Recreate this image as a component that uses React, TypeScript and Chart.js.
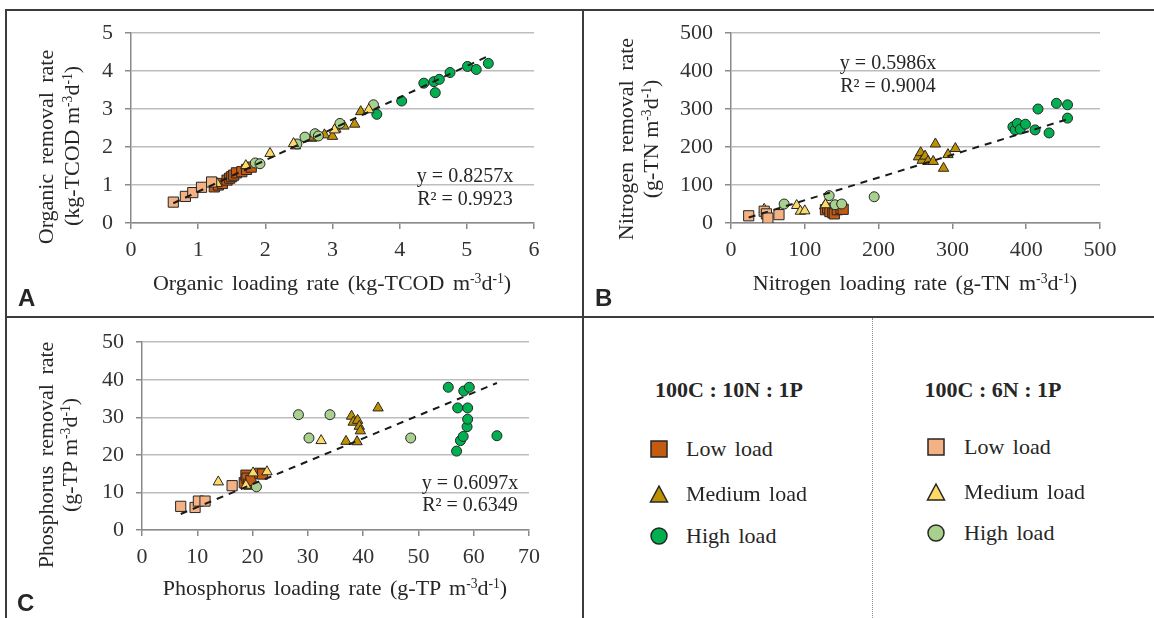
import React, { useEffect, useRef } from "react";
import { Chart, registerables } from "chart.js";

Chart.register(...registerables);

type Pt = [number, number];

// ---------- Panel A: organic (kg-TCOD m-3 d-1) ----------
const organicLow10N: Pt[] = [[1.24, 0.95], [1.30, 1.00], [1.36, 1.04], [1.43, 1.13], [1.47, 1.18], [1.50, 1.22], [1.53, 1.26], [1.57, 1.32], [1.65, 1.35], [1.72, 1.41], [1.79, 1.47]];
const organicMed10N: Pt[] = [[2.45, 2.03], [2.69, 2.23], [2.72, 2.26], [2.88, 2.32], [3.00, 2.28], [3.05, 2.47], [3.17, 2.55], [3.33, 2.60], [3.42, 2.93]];
const organicHigh10N: Pt[] = [[3.66, 2.86], [4.03, 3.21], [4.36, 3.68], [4.51, 3.72], [4.53, 3.43], [4.59, 3.78], [4.75, 3.96], [5.01, 4.12], [5.14, 4.04], [5.32, 4.20]];
const organicLow6N: Pt[] = [[0.63, 0.55], [0.81, 0.70], [0.92, 0.80], [1.05, 0.94], [1.20, 1.08]];
const organicMed6N: Pt[] = [[1.28, 1.04], [1.71, 1.51], [2.07, 1.83], [2.42, 2.09], [3.03, 2.45], [3.54, 2.98]];
const organicHigh6N: Pt[] = [[1.85, 1.58], [1.92, 1.56], [2.47, 2.08], [2.59, 2.26], [2.74, 2.35], [2.79, 2.29], [3.11, 2.62], [3.61, 3.11]];
const organicSlope = 0.8257;
const organicEq = ["y = 0.8257x", "R² = 0.9923"];

// ---------- Panel B: nitrogen (g-TN m-3 d-1) ----------
const nitrogenLow10N: Pt[] = [[128, 35], [131, 39], [134, 30], [138, 27], [140, 24], [144, 35], [149, 38], [152, 36]];
const nitrogenMed10N: Pt[] = [[127, 45], [254, 174], [257, 185], [259, 165], [263, 176], [267, 162], [274, 162], [277, 208], [288, 144], [294, 180], [304, 196]];
const nitrogenHigh10N: Pt[] = [[382, 253], [385, 245], [388, 262], [392, 247], [399, 260], [412, 245], [416, 300], [431, 237], [441, 315], [456, 311], [456, 276]];
const nitrogenLow6N: Pt[] = [[24, 19], [45, 31], [48, 24], [50, 13], [65, 22]];
const nitrogenMed6N: Pt[] = [[45, 36], [89, 46], [94, 31], [100, 32], [128, 48]];
const nitrogenHigh6N: Pt[] = [[72, 50], [133, 72], [141, 48], [150, 50], [194, 69]];
const nitrogenSlope = 0.5986;
const nitrogenEq = ["y = 0.5986x", "R² = 0.9004"];

// ---------- Panel C: phosphorus (g-TP m-3 d-1) ----------
const phosphorusLow10N: Pt[] = [[18.5, 12.6], [18.8, 14.6], [19.0, 13.8], [19.3, 12.2], [19.7, 13.2], [21.3, 15.1], [21.8, 14.9]];
const phosphorusMed10N: Pt[] = [[36.9, 23.6], [37.9, 30.3], [38.2, 28.7], [38.9, 23.5], [39.0, 29.2], [39.3, 27.6], [39.5, 26.4], [42.7, 32.5]];
const phosphorusHigh10N: Pt[] = [[55.4, 38.0], [56.9, 21.0], [57.1, 32.5], [57.6, 23.8], [58.1, 24.9], [58.2, 37.0], [58.8, 27.5], [58.9, 29.5], [58.9, 32.5], [59.2, 38.0], [64.2, 25.1]];
const phosphorusLow6N: Pt[] = [[7.0, 6.3], [9.6, 6.0], [10.2, 7.7], [11.4, 7.7], [16.3, 11.8]];
const phosphorusMed6N: Pt[] = [[13.8, 12.8], [18.8, 11.9], [20.1, 15.2], [22.6, 15.5], [32.4, 23.8]];
const phosphorusHigh6N: Pt[] = [[20.7, 11.5], [28.3, 30.7], [30.2, 24.5], [34.0, 30.7], [48.6, 24.5]];
const phosphorusSlope = 0.6097;
const phosphorusEq = ["y = 0.6097x", "R² = 0.6349"];

// ---------- legend / series ----------
const groupNames = ["100C : 10N : 1P", "100C : 6N : 1P"];
const loadNames = ["Low load", "Medium load", "High load"];
const seriesColors = ["#C55A11", "#BF9000", "#00B050", "#F4B183", "#FFD966", "#A9D18E"];
const seriesShapes = ["rect", "triangle", "circle", "rect", "triangle", "circle"];

const SERIF = '"Liberation Serif", "Times New Roman", serif';
const SANS = '"Liberation Sans", Arial, sans-serif';
const TEXT = "#262626";

interface PanelSpec {
  series: Pt[][];
  slope: number;
  xMax: number;
  xStep: number;
  yMax: number;
  yStep: number;
  yWidth: number;
  xHeight: number;
  pad: { left: number; top: number; right: number; bottom: number };
}

const radiusFor = (shape: string) => (shape === "rect" ? 7.2 : shape === "triangle" ? 6 : 5);

function ScatterPanel(props: { spec: PanelSpec; left: number; top: number; width: number; height: number }) {
  const { spec, left, top, width, height } = props;
  const ref = useRef<HTMLCanvasElement | null>(null);
  useEffect(() => {
    if (!ref.current) return;
    const all = spec.series.flat();
    const xs = all.map((p) => p[0]);
    const x0 = Math.min(...xs);
    const x1 = Math.max(...xs);
    const datasets: any[] = [
      {
        type: "line",
        data: [
          { x: x0, y: spec.slope * x0 },
          { x: x1, y: spec.slope * x1 },
        ],
        borderColor: "#1a1a1a",
        borderWidth: 2,
        borderDash: [7, 6],
        pointRadius: 0,
        fill: false,
        order: -1,
      },
      ...spec.series.map((s, i) => ({
        type: "scatter",
        data: s.map(([x, y]) => ({ x, y })),
        pointStyle: seriesShapes[i],
        pointRadius: radiusFor(seriesShapes[i]),
        backgroundColor: seriesColors[i],
        borderColor: "#262626",
        borderWidth: 1,
        order: i < 3 ? 2 : 1,
      })),
    ];
    const tickFont = { family: SERIF, size: 22 };
    const chart = new Chart(ref.current, {
      type: "scatter",
      data: { datasets },
      options: {
        animation: false,
        responsive: false,
        maintainAspectRatio: false,
        devicePixelRatio: 1,
        layout: { padding: spec.pad },
        plugins: { legend: { display: false }, tooltip: { enabled: false } },
        scales: {
          x: {
            type: "linear",
            min: 0,
            max: spec.xMax,
            ticks: { stepSize: spec.xStep, font: tickFont, color: "#333", padding: 8, maxRotation: 0 },
            grid: { drawOnChartArea: false, drawTicks: true, tickLength: 6, tickColor: "#8a8a8a", lineWidth: 1.5 },
            border: { display: true, color: "#8a8a8a", width: 1.5 },
            afterFit: (s: any) => {
              s.height = spec.xHeight;
            },
          },
          y: {
            type: "linear",
            min: 0,
            max: spec.yMax,
            ticks: { stepSize: spec.yStep, font: tickFont, color: "#333", padding: 12 },
            grid: { color: "#bdbdbd", lineWidth: 1.5, drawTicks: true, tickLength: 6, tickColor: "#8a8a8a" },
            border: { display: true, color: "#8a8a8a", width: 1.5 },
            afterFit: (s: any) => {
              s.width = spec.yWidth;
            },
          },
        },
      } as any,
    });
    return () => chart.destroy();
  }, []);
  return (
    <canvas
      ref={ref}
      width={width}
      height={height}
      style={{ position: "absolute", left, top, width, height }}
    />
  );
}

const Sup = (p: { children: React.ReactNode }) => (
  <span style={{ fontSize: "0.62em", position: "relative", top: "-0.55em" }}>{p.children}</span>
);

function Txt(props: {
  x: number;
  y: number;
  children: React.ReactNode;
  size?: number;
  rotate?: boolean;
  align?: "center" | "left";
  bold?: boolean;
  family?: string;
  ws?: number;
}) {
  const { x, y, children, size = 22, rotate, align = "center", bold, family = SERIF, ws = 0 } = props;
  const tx = align === "center" ? "-50%" : "0";
  return (
    <div
      style={{
        position: "absolute",
        left: x,
        top: y,
        fontFamily: family,
        fontSize: size,
        lineHeight: 1,
        fontWeight: bold ? 700 : 400,
        color: TEXT,
        whiteSpace: "nowrap",
        wordSpacing: ws,
        transform: `translate(${tx}, -50%)${rotate ? " rotate(-90deg)" : ""}`,
        transformOrigin: align === "center" ? "center" : "left center",
      }}
    >
      {children}
    </div>
  );
}

const unit = (pre: string) => (
  <>
    ({pre} m<Sup>-3</Sup>d<Sup>-1</Sup>)
  </>
);

function Marker(props: { shape: string; color: string; cx: number; cy: number }) {
  const { shape, color, cx, cy } = props;
  const s = 20;
  return (
    <svg width={s} height={s} style={{ position: "absolute", left: cx - s / 2, top: cy - s / 2 }}>
      {shape === "rect" && <rect x={2} y={2} width={16} height={16} fill={color} stroke="#262626" strokeWidth={1.5} />}
      {shape === "triangle" && <polygon points="10,2 18.5,18 1.5,18" fill={color} stroke="#262626" strokeWidth={1.5} />}
      {shape === "circle" && <circle cx={10} cy={10} r={8} fill={color} stroke="#262626" strokeWidth={1.5} />}
    </svg>
  );
}

const Line = (p: { x: number; y: number; w: number; h: number }) => (
  <div style={{ position: "absolute", left: p.x, top: p.y, width: p.w, height: p.h, background: "#3c3c3c" }} />
);

export default function App() {
  const specA: PanelSpec = {
    series: [organicLow10N, organicMed10N, organicHigh10N, organicLow6N, organicMed6N, organicHigh6N],
    slope: organicSlope,
    xMax: 6,
    xStep: 1,
    yMax: 5,
    yStep: 1,
    yWidth: 131,
    xHeight: 40,
    pad: { left: 0, top: 33, right: 49, bottom: 53 },
  };
  const specB: PanelSpec = {
    series: [nitrogenLow10N, nitrogenMed10N, nitrogenHigh10N, nitrogenLow6N, nitrogenMed6N, nitrogenHigh6N],
    slope: nitrogenSlope,
    xMax: 500,
    xStep: 100,
    yMax: 500,
    yStep: 100,
    yWidth: 148,
    xHeight: 40,
    pad: { left: 0, top: 33, right: 54, bottom: 53 },
  };
  const specC: PanelSpec = {
    series: [phosphorusLow10N, phosphorusMed10N, phosphorusHigh10N, phosphorusLow6N, phosphorusMed6N, phosphorusHigh6N],
    slope: phosphorusSlope,
    xMax: 70,
    xStep: 10,
    yMax: 50,
    yStep: 10,
    yWidth: 142,
    xHeight: 40,
    pad: { left: 0, top: 22, right: 54, bottom: 48 },
  };

  return (
    <div style={{ position: "absolute", left: 0, top: 0, width: 1154, height: 618, overflow: "hidden", background: "#fff" }}>
      <ScatterPanel spec={specA} left={0} top={0} width={583} height={316} />
      <ScatterPanel spec={specB} left={583} top={0} width={571} height={316} />
      <ScatterPanel spec={specC} left={0} top={317} width={583} height={301} />

      {/* frame */}
      <Line x={5} y={9} w={1149} h={2} />
      <Line x={5} y={9} w={2} h={609} />
      <Line x={582} y={9} w={2} h={609} />
      <Line x={5} y={316} w={1149} h={2} />
      <div style={{ position: "absolute", left: 872, top: 318, width: 0, height: 300, borderLeft: "1px dotted #8c8c8c" }} />

      {/* Panel A texts */}
      <Txt x={332} y={283} ws={3}>Organic loading rate {unit("kg-TCOD")}</Txt>
      <Txt x={46} y={147} rotate ws={4}>Organic removal rate</Txt>
      <Txt x={72} y={146} rotate>{unit("kg-TCOD")}</Txt>
      <Txt x={18} y={298} align="left" bold family={SANS} size={24}>A</Txt>
      <Txt x={465} y={175} size={20}>{organicEq[0]}</Txt>
      <Txt x={465} y={198} size={20}>{organicEq[1]}</Txt>

      {/* Panel B texts */}
      <Txt x={915} y={283} ws={3}>Nitrogen loading rate {unit("g-TN")}</Txt>
      <Txt x={626} y={139} rotate ws={4}>Nitrogen removal rate</Txt>
      <Txt x={651} y={139} rotate>{unit("g-TN")}</Txt>
      <Txt x={595} y={298} align="left" bold family={SANS} size={24}>B</Txt>
      <Txt x={888} y={62} size={20}>{nitrogenEq[0]}</Txt>
      <Txt x={888} y={85} size={20}>{nitrogenEq[1]}</Txt>

      {/* Panel C texts */}
      <Txt x={335} y={588} ws={3}>Phosphorus loading rate {unit("g-TP")}</Txt>
      <Txt x={46} y={455} rotate ws={4}>Phosphorus removal rate</Txt>
      <Txt x={70} y={455} rotate>{unit("g-TP")}</Txt>
      <Txt x={17} y={603} align="left" bold family={SANS} size={24}>C</Txt>
      <Txt x={470} y={482} size={20}>{phosphorusEq[0]}</Txt>
      <Txt x={470} y={504} size={20}>{phosphorusEq[1]}</Txt>

      {/* Legend */}
      <Txt x={729} y={390} bold>{groupNames[0]}</Txt>
      <Txt x={993} y={390} bold>{groupNames[1]}</Txt>
      {[449, 494, 536].map((y, i) => (
        <React.Fragment key={"l" + i}>
          <Marker shape={seriesShapes[i]} color={seriesColors[i]} cx={659} cy={y} />
          <Txt x={686} y={y} align="left" ws={3}>{loadNames[i]}</Txt>
        </React.Fragment>
      ))}
      {[447, 492, 533].map((y, i) => (
        <React.Fragment key={"r" + i}>
          <Marker shape={seriesShapes[i + 3]} color={seriesColors[i + 3]} cx={936} cy={y} />
          <Txt x={964} y={y} align="left" ws={3}>{loadNames[i]}</Txt>
        </React.Fragment>
      ))}
    </div>
  );
}
